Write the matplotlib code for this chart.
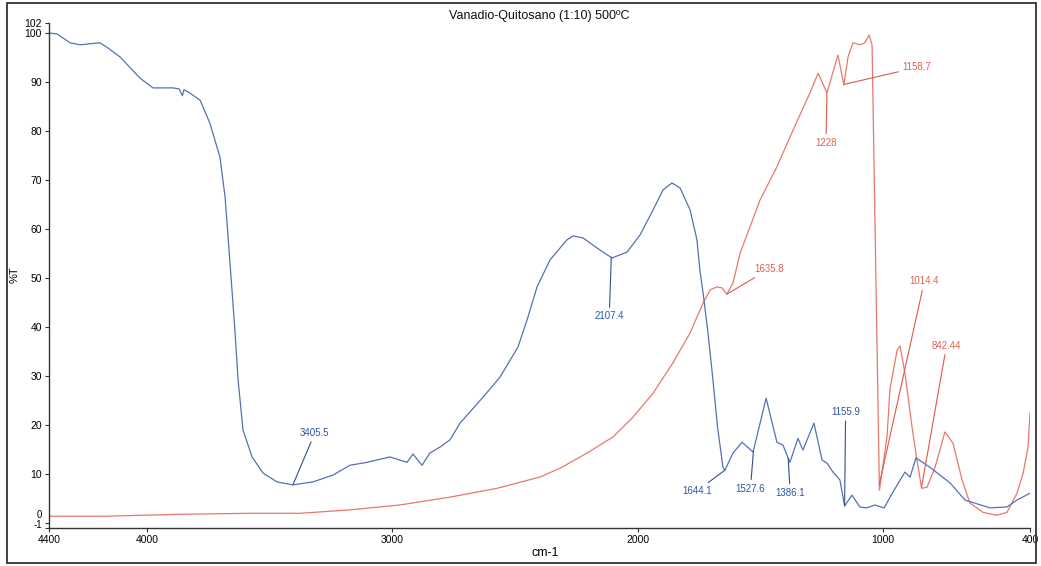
import numpy as np
import matplotlib
matplotlib.use("Agg")
import matplotlib.pyplot as plt
from matplotlib.patches import Rectangle
from matplotlib.transforms import ScaledTranslation

plt.rcParams['font.family'] = ['Liberation Sans Narrow', 'Liberation Sans', 'DejaVu Sans']

title = "Vanadio-Quitosano (1:10) 500ºC"
x_label = "cm-1"
y_label = "%T"

x_ticks = [4400, 4000, 3000, 2000, 1000, 400]
y_ticks = [-1, 0, 10, 20, 30, 40, 50, 60, 70, 80, 90, 100, 102]

# Blue spectrum (wavenumber cm-1, %T)
blue_wn = [4400, 4367, 4314, 4273, 4192, 4164, 4110, 4029, 3976, 3894, 3870, 3856, 3850,
           3833, 3784, 3744, 3703, 3682, 3662, 3642, 3629, 3609, 3572, 3527, 3470, 3405,
           3324, 3242, 3173, 3103, 3010, 2940, 2916, 2879, 2847, 2806, 2765, 2724, 2630,
           2561, 2488, 2451, 2410, 2357, 2288, 2263, 2223, 2153, 2104, 2043, 1990, 1937,
           1896, 1860, 1827, 1786, 1758, 1746, 1733, 1713, 1694, 1674, 1652, 1644, 1611,
           1574, 1529, 1476, 1432, 1407, 1379, 1346, 1326, 1281, 1248, 1227, 1203, 1175,
           1156, 1126, 1094, 1066, 1032, 995, 959, 910, 889, 865, 808, 726, 665, 563, 494,
           453, 400]
blue_t = [100.0, 99.8, 98.0, 97.6, 98.0, 97.1, 95.1, 90.8, 88.8, 88.8, 88.6, 87.2, 88.4,
          88.0, 86.3, 81.6, 74.7, 66.5, 53.1, 39.4, 29.2, 19.0, 13.5, 10.2, 8.4, 7.8,
          8.4, 9.8, 11.8, 12.4, 13.5, 12.4, 14.1, 11.8, 14.3, 15.5, 17.0, 20.4, 25.7,
          29.8, 35.9, 41.4, 48.2, 53.7, 57.8, 58.6, 58.2, 55.7, 54.1, 55.3, 58.8, 63.9,
          68.0, 69.4, 68.4, 63.9, 57.8, 51.6, 47.0, 38.8, 29.8, 19.6, 11.4, 10.8, 14.3,
          16.5, 14.5, 25.5, 16.5, 15.9, 12.4, 17.3, 14.9, 20.4, 12.9, 12.2, 10.4, 8.8,
          3.5, 5.7, 3.3, 3.1, 3.7, 3.1, 6.3, 10.4, 9.4, 13.3, 11.4, 8.2, 4.7, 3.1, 3.3,
          4.7, 6.1]

# Red spectrum (wavenumber cm-1, %T)
red_wn = [4400, 4172, 3866, 3580, 3377, 3173, 2969, 2765, 2573, 2398, 2316, 2206, 2100,
          2019, 1937, 1856, 1786, 1733, 1704, 1676, 1656, 1636, 1611, 1582, 1542, 1501,
          1432, 1366, 1297, 1264, 1228, 1183, 1159, 1142, 1122, 1093, 1073, 1056, 1044,
          1014, 983, 971, 942, 930, 910, 881, 861, 842, 820, 787, 747, 714, 677, 645,
          592, 535, 494, 453, 428, 408, 400]
red_t = [1.4, 1.4, 1.8, 2.0, 2.0, 2.7, 3.7, 5.3, 7.1, 9.4, 11.2, 14.3, 17.6,
         21.6, 26.5, 32.7, 38.8, 44.9, 47.6, 48.2, 48.0, 46.7, 49.0, 55.1, 60.4, 65.9,
         72.7, 80.2, 87.8, 91.8, 87.8, 95.5, 89.4, 95.1, 98.0, 97.6, 98.0, 99.6, 97.6,
         6.7, 17.6, 27.3, 35.3, 36.1, 30.6, 19.6, 12.9, 7.1, 7.3, 11.4, 18.6, 16.3, 8.8,
         4.1, 2.2, 1.6, 2.2, 6.1, 10.2, 15.5, 22.5]

blue_peaks = [3405.5, 2107.4, 1644.1, 1527.6, 1386.1, 1155.9]
blue_peak_labels = ["3405.5", "2107.4", "1644.1", "1527.6", "1386.1", "1155.9"]
red_peaks = [1635.8, 1228, 1158.7, 1014.4, 842.44]
red_peak_labels = ["1635.8", "1228", "1158.7", "1014.4", "842.44"]

BLUE = "#5571b5"
RED = "#e8786c"
BLUE_TXT = "#2f55a6"
RED_TXT = "#e0604f"

W, H = 1041, 566
fig = plt.figure(figsize=(W / 100, H / 100), dpi=100)
ax = fig.add_axes([49 / W, (H - 528) / H, 981 / W, 504.8 / H])

ax.plot(red_wn, red_t, color=RED, lw=0.9)
ax.plot(blue_wn, blue_t, color=BLUE, lw=0.9)

ax.set_xlim(4400, 400)
ax.set_ylim(-1, 102)
ax.set_xticks(x_ticks)
ax.set_xticklabels([str(v) for v in x_ticks])
ax.set_yticks(y_ticks)
ax.set_yticklabels([str(v) for v in y_ticks])
ax.tick_params(axis='both', labelsize=7.5, length=3, width=0.8, color='#333333', pad=2)

for s in ['top', 'right']:
    ax.spines[s].set_visible(False)
for s in ['left', 'bottom']:
    ax.spines[s].set_color('#333333')
    ax.spines[s].set_linewidth(1.0)

# shift the crowded 0 / -1 labels as in the reference
for lab, val in zip(ax.get_yticklabels(), y_ticks):
    if val == 0:
        lab.set_transform(lab.get_transform() + ScaledTranslation(0, 0.095, fig.dpi_scale_trans))
        lab.set_fontsize(7)
    elif val == -1:
        lab.set_transform(lab.get_transform() + ScaledTranslation(0, 0.035, fig.dpi_scale_trans))
        lab.set_fontsize(7)

ax.set_title(title, fontsize=9, pad=3, color='#111111')
fig.text(15 / W, 1 - 275 / H, y_label, rotation=90, ha='center', va='center', fontsize=8)
fig.text(545 / W, 1 - 553 / H, x_label, ha='center', va='center', fontsize=9)

# peak annotations: text offsets in pixels
blue_offsets = [(22, 52), (-2, -59), (-28, -21), (-3, -38), (2, -35), (1, 94)]
red_offsets = [(42, 25), (-1, -50), (73, 17), (45, 203), (25, 142)]

bw = np.array(blue_wn[::-1], float); bt = np.array(blue_t[::-1], float)
rw = np.array(red_wn[::-1], float); rt = np.array(red_t[::-1], float)

for wn, lab, off in zip(blue_peaks, blue_peak_labels, blue_offsets):
    yv = np.interp(wn, bw, bt)
    ax.annotate(lab, xy=(wn, yv), xytext=off, textcoords='offset pixels',
                ha='center', va='center', fontsize=7, color=BLUE_TXT,
                arrowprops=dict(arrowstyle='-', color='#34508f', lw=0.8,
                                shrinkA=1, shrinkB=0))
for wn, lab, off in zip(red_peaks, red_peak_labels, red_offsets):
    yv = np.interp(wn, rw, rt)
    ax.annotate(lab, xy=(wn, yv), xytext=off, textcoords='offset pixels',
                ha='center', va='center', fontsize=7, color=RED_TXT,
                arrowprops=dict(arrowstyle='-', color='#e05848', lw=0.8,
                                shrinkA=1, shrinkB=0))

fig.patches.append(Rectangle((7 / W, (H - 563) / H), 1029 / W, 560 / H,
                             transform=fig.transFigure, fill=False,
                             edgecolor='#333333', lw=1.3))

fig.savefig("out.png", dpi=100)
